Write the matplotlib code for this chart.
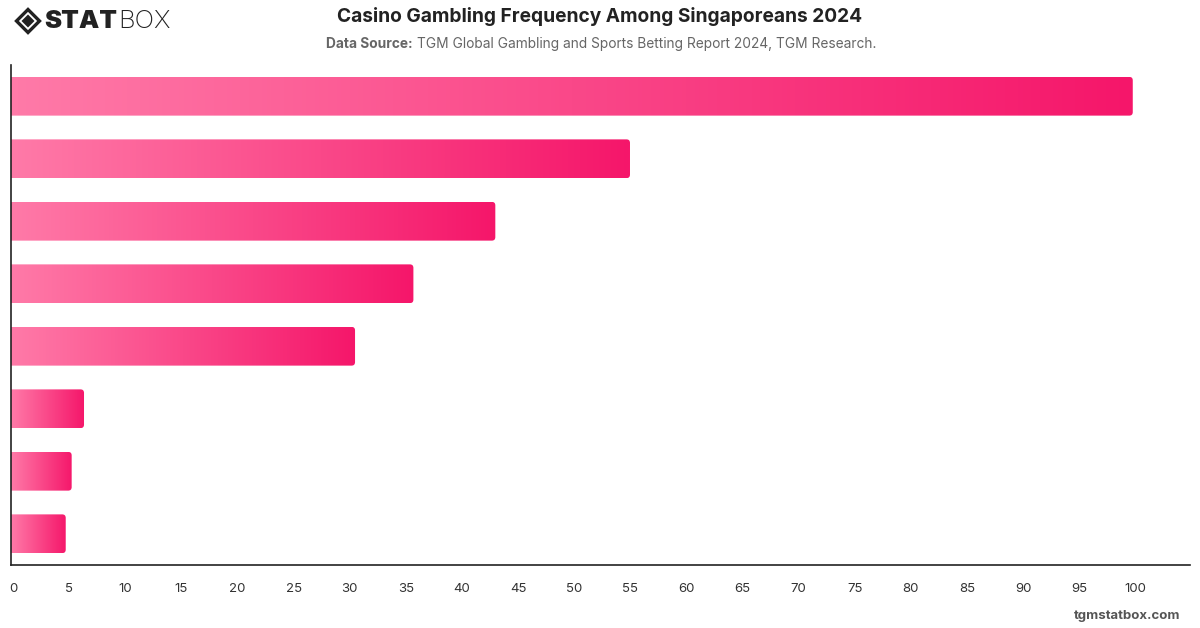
import matplotlib
matplotlib.use("Agg")
import matplotlib.pyplot as plt
import numpy as np
from matplotlib.patches import FancyBboxPatch, Polygon
from matplotlib.colors import LinearSegmentedColormap
from matplotlib.transforms import ScaledTranslation

# ---- data ----
categories = ["Category 1", "Category 2", "Category 3", "Category 4",
              "Category 5", "Category 6", "Category 7", "Category 8"]
values = [100, 55.2, 43.2, 35.9, 30.7, 6.55, 5.45, 4.92]
xticks = list(range(0, 101, 5))

title = "Casino Gambling Frequency Among Singaporeans 2024"
source_label = "Data Source:"
source_text = "TGM Global Gambling and Sports Betting Report 2024, TGM Research."

plt.rcParams['font.family'] = ['Inter', 'DejaVu Sans']

W, H = 1200, 628
fig = plt.figure(figsize=(W / 100, H / 100), dpi=100)
fig.patch.set_facecolor("white")

ax_l, ax_r, ax_t, ax_b = 10.5, 1190, 65, 565
ax = fig.add_axes([ax_l / W, (H - ax_b) / H, (ax_r - ax_l) / W, (ax_b - ax_t) / H])

n = len(categories)
ypos = np.arange(n)
bar_h = 0.62
xmax = 105.1
bars = ax.barh(ypos, values, height=bar_h, color="none", edgecolor="none")

cmap = LinearSegmentedColormap.from_list("pinkgrad", ["#ff7aa8", "#f5166a"])
grad = np.linspace(0, 1, 256).reshape(1, -1)

px_per_x = (ax_r - ax_l) / xmax
px_per_y = (ax_b - ax_t) / n
r_px = 3.5
r_x = r_px / px_per_x
for rect in bars:
    x0 = rect.get_x()
    y0 = rect.get_y()
    w = rect.get_width()
    h = rect.get_height()
    patch = FancyBboxPatch((x0 - 2, y0), w + 2, h,
                           boxstyle=f"round,pad=0,rounding_size={r_x}",
                           mutation_aspect=px_per_x / px_per_y,
                           facecolor="none", edgecolor="none",
                           transform=ax.transData)
    ax.add_patch(patch)
    im = ax.imshow(grad, cmap=cmap, extent=[x0, x0 + w, y0, y0 + h],
                   aspect="auto", interpolation="bicubic", zorder=2)
    im.set_clip_path(patch)

ax.set_xlim(0, xmax)
ax.set_ylim(n - 0.5, -0.5)
ax.set_yticks([])
ax.set_xticks(xticks)
ax.set_xticklabels([str(t) for t in xticks], fontsize=9.5, color="#333333")
ax.tick_params(axis="x", length=0, pad=13)
offset = ScaledTranslation(2.5 / 100, 0, fig.dpi_scale_trans)
for lbl in ax.get_xticklabels():
    lbl.set_transform(lbl.get_transform() + offset)
for s in ["top", "right"]:
    ax.spines[s].set_visible(False)
for s in ["left", "bottom"]:
    ax.spines[s].set_color("#222222")
    ax.spines[s].set_linewidth(1.2)

# title & subtitle
fig.text(600 / W, 1 - 17 / H, title, ha="center", va="center",
         fontsize=13.8, fontweight="bold", color="#222222")
t1 = fig.text(326 / W, 1 - 44 / H, source_label, ha="left", va="center",
              fontsize=9.9, fontweight="bold", color="#666666")
fig.canvas.draw()
bb = t1.get_window_extent()
fig.text((bb.x1 + 4) / W, 1 - 44 / H, source_text, ha="left", va="center",
         fontsize=9.9, color="#666666")

# logo
cx, cy = 28, 21
def dia(s):
    return [((cx) / W, 1 - (cy - s) / H), ((cx + s) / W, 1 - cy / H),
            ((cx) / W, 1 - (cy + s) / H), ((cx - s) / W, 1 - cy / H)]
fig.patches.append(Polygon(dia(11.5), closed=True, transform=fig.transFigure,
                           facecolor="none", edgecolor="#222222", linewidth=2.4))
fig.patches.append(Polygon(dia(6.5), closed=True, transform=fig.transFigure,
                           facecolor="#222222", edgecolor="none"))
lt = fig.text(44 / W, 1 - 21 / H, "STAT", ha="left", va="center",
              fontsize=18.5, fontweight="black", color="#222222")
fig.canvas.draw()
lb = lt.get_window_extent()
fig.text((lb.x1 + 1) / W, 1 - 21 / H, "BOX", ha="left", va="center",
         fontsize=18.5, fontweight="light", color="#222222")

fig.text(1180 / W, 1 - 616 / H, "tgmstatbox.com", ha="right", va="center",
         fontsize=9.5, fontweight="bold", color="#555555")

fig.savefig("out.png", dpi=100, facecolor="white")
